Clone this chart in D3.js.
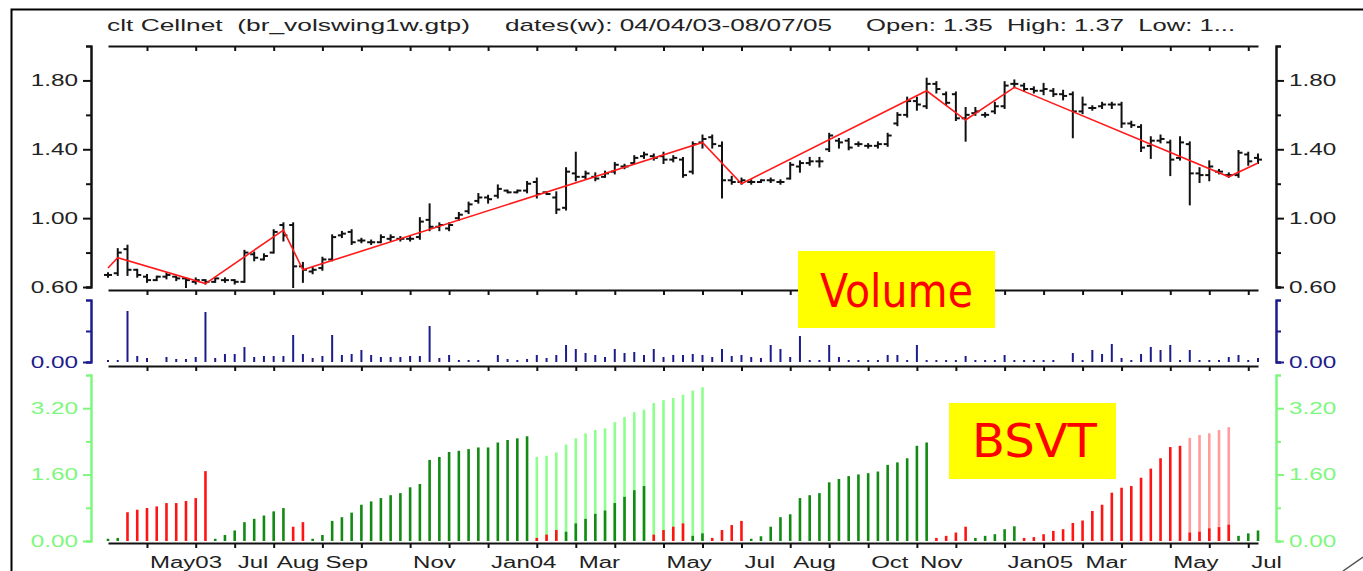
<!DOCTYPE html>
<html>
<head>
<meta charset="utf-8">
<script src="https://cdn.jsdelivr.net/npm/d3@7"></script>
<style>
  body { margin: 0; background: #fff; }
  text { font-family: 'Liberation Sans', Arial, sans-serif; }
</style>
</head>
<body>
<div id="chart"></div>
<script>
// weekly bars, 04/04/03 - 08/07/05
let open = [0.67,0.68,0.82,0.70,0.66,0.64,0.66,0.66,0.65,0.63,0.64,0.63,0.64,0.64,0.63,0.79,0.76,0.80,0.96,0.96,
  0.72,0.69,0.71,0.76,0.90,0.92,0.87,0.86,0.86,0.88,0.88,0.88,0.89,0.99,0.95,0.94,1.00,1.04,1.10,1.12,
  1.13,1.16,1.15,1.16,1.21,1.15,1.12,1.06,1.26,1.24,1.24,1.24,1.27,1.30,1.32,1.36,1.36,1.36,1.34,1.34,
  1.27,1.44,1.47,1.42,1.22,1.21,1.21,1.21,1.22,1.21,1.23,1.30,1.32,1.33,1.40,1.45,1.45,1.43,1.42,1.42,
  1.43,1.55,1.60,1.68,1.65,1.78,1.72,1.72,1.58,1.61,1.60,1.62,1.65,1.78,1.77,1.75,1.74,1.74,1.72,1.72,
  1.62,1.64,1.65,1.66,1.66,1.55,1.53,1.42,1.45,1.44,1.35,1.43,1.26,1.25,1.27,1.25,1.25,1.37,1.35];
let high = [0.68,0.82,0.84,0.70,0.67,0.66,0.68,0.66,0.65,0.65,0.64,0.65,0.65,0.64,0.81,0.80,0.79,0.93,0.97,0.97,
  0.74,0.71,0.77,0.90,0.92,0.93,0.88,0.87,0.90,0.90,0.89,0.89,1.00,1.08,0.97,0.97,1.03,1.09,1.14,1.13,
  1.19,1.16,1.16,1.21,1.23,1.15,1.15,1.29,1.38,1.27,1.26,1.27,1.32,1.31,1.36,1.38,1.37,1.38,1.36,1.35,
  1.44,1.48,1.48,1.44,1.24,1.23,1.22,1.22,1.23,1.22,1.32,1.33,1.35,1.35,1.49,1.46,1.46,1.44,1.43,1.44,
  1.49,1.61,1.70,1.70,1.81,1.79,1.73,1.73,1.64,1.64,1.61,1.67,1.79,1.80,1.78,1.76,1.78,1.75,1.74,1.73,
  1.70,1.65,1.67,1.67,1.67,1.56,1.54,1.47,1.48,1.45,1.47,1.44,1.29,1.33,1.28,1.26,1.39,1.38,1.37];
let low = [0.66,0.67,0.67,0.66,0.63,0.64,0.65,0.64,0.60,0.62,0.62,0.63,0.63,0.62,0.63,0.755,0.76,0.80,0.87,0.60,
  0.63,0.68,0.70,0.755,0.89,0.85,0.86,0.85,0.86,0.87,0.87,0.87,0.88,0.93,0.93,0.93,0.99,1.03,1.09,1.09,
  1.12,1.15,1.15,1.15,1.12,1.14,1.03,1.05,1.22,1.23,1.22,1.24,1.26,1.29,1.32,1.35,1.34,1.32,1.33,1.24,
  1.26,1.41,1.41,1.12,1.20,1.20,1.20,1.21,1.21,1.20,1.23,1.27,1.31,1.30,1.39,1.41,1.40,1.42,1.41,1.41,
  1.42,1.54,1.59,1.63,1.64,1.73,1.66,1.57,1.45,1.60,1.59,1.61,1.64,1.76,1.74,1.73,1.72,1.71,1.69,1.47,
  1.61,1.63,1.64,1.64,1.53,1.53,1.39,1.35,1.44,1.25,1.34,1.08,1.21,1.22,1.26,1.24,1.24,1.31,1.32];
let close = [0.67,0.80,0.70,0.67,0.64,0.66,0.67,0.65,0.64,0.64,0.63,0.65,0.64,0.63,0.80,0.77,0.78,0.92,0.90,0.72,
  0.70,0.70,0.76,0.89,0.91,0.86,0.87,0.86,0.89,0.89,0.88,0.88,0.98,0.95,0.96,0.96,1.02,1.08,1.12,1.11,
  1.17,1.15,1.16,1.20,1.14,1.14,1.05,1.27,1.24,1.26,1.23,1.26,1.31,1.30,1.35,1.37,1.35,1.34,1.35,1.25,
  1.43,1.46,1.43,1.22,1.21,1.22,1.21,1.22,1.22,1.21,1.31,1.32,1.33,1.33,1.48,1.44,1.41,1.43,1.42,1.43,
  1.48,1.60,1.68,1.66,1.78,1.75,1.67,1.58,1.60,1.62,1.60,1.65,1.77,1.78,1.75,1.74,1.75,1.72,1.71,1.62,
  1.66,1.64,1.66,1.66,1.55,1.54,1.41,1.45,1.46,1.34,1.44,1.26,1.25,1.30,1.27,1.25,1.38,1.33,1.34];

let volume = [0.05,0.05,2.5,0.25,0.15,0,0.2,0.1,0.1,0.2,2.45,0.15,0.35,0.35,0.7,0.2,0.25,0.25,0.25,1.3,
  0.35,0.15,0.25,1.3,0.3,0.35,0.55,0.3,0.2,0.2,0.2,0.25,0.25,1.75,0.15,0.3,0.05,0.05,0.05,0,
  0.3,0.1,0.05,0.1,0.3,0.15,0.3,0.8,0.6,0.4,0.3,0.2,0.6,0.4,0.45,0.3,0.6,0.2,0.3,0.3,
  0.35,0.3,0.2,0.6,0.25,0.3,0.2,0.15,0.8,0.6,0.2,1.25,0.05,0.05,0.8,0.2,0.05,0.05,0.05,0.05,
  0.3,0.3,0.05,0.8,0.05,0.05,0.05,0.05,0.25,0.05,0.05,0.05,0.3,0.05,0.05,0.05,0.05,0.05,0,0.4,
  0.05,0.55,0.35,0.85,0.15,0.05,0.35,0.7,0.55,0.8,0.05,0.55,0.05,0.05,0.05,0.2,0.3,0.05,0.15];

// BSVT: g = dark green, G = light green, r = red, R = light red
let bsvt = [0.03,0.05,0.67,0.73,0.77,0.81,0.89,0.89,0.94,1.01,1.66,0.03,0.12,0.23,0.43,0.51,0.59,0.69,0.77,0.32,
  0.43,0.03,0.12,0.46,0.55,0.66,0.85,0.93,1.01,1.08,1.13,1.27,1.35,1.93,2.00,2.12,2.15,2.19,2.23,2.23,
  2.35,2.41,2.45,2.50,2.00,2.03,2.11,2.30,2.45,2.57,2.65,2.69,2.84,2.96,3.08,3.14,3.30,3.37,3.42,3.50,
  3.60,3.68,0.05,0.24,0.36,0.46,0.03,0.09,0.32,0.55,0.62,1.01,1.08,1.13,1.39,1.47,1.54,1.58,1.61,1.65,
  1.81,1.87,1.97,2.27,2.35,0.05,0.10,0.18,0.32,0.05,0.10,0.14,0.26,0.33,0.05,0.07,0.14,0.22,0.26,0.41,
  0.47,0.70,0.85,1.14,1.26,1.30,1.50,1.72,1.97,2.24,2.27,2.46,2.53,2.57,2.65,2.72,0.10,0.16,0.23];
let bsvtKind = ("gg" + "rrrrrrrrr" + "gggggggg" + "rr" + "ggggggggggggggggggggggg" + "GGGGGGGGGGGGGGGGGG" +
  "rrrr" + "ggggggggggggggggggg" + "rrrr" + "ggggg" + "rrrrrrrrrrrrrrrrr" + "RRRRR" + "ggg").split("");
let ovIndex = [44,45,46,47,48,49,50,51,52,53,54,55,56,57,58,59,60,61,111,112,113,114,115];
let ovValue = [0.05,0.13,0.24,0.20,0.40,0.51,0.63,0.71,0.89,1.04,1.20,1.30,0.13,0.24,0.32,0.40,0.10,0.16,
  0.18,0.20,0.28,0.31,0.37];
let ovKind = "rrrgggggggggrrrrggrrrrr".split("");

// swing line
let swingIdx = [0,1,10,18,20,61,65,84,88,93,115,118];
let swingVal = [0.71,0.77,0.62,0.93,0.70,1.44,1.20,1.74,1.57,1.76,1.24,1.32];

let monthLabels = ["May03","","Jul","Aug","Sep","","Nov","","Jan04","","Mar","","May","","Jul","Aug","",
  "Oct","Nov","","Jan05","","Mar","","May","","Jul"];

let titleParts = ["clt Cellnet  (br_volswing1w.gtp)", "dates(w): 04/04/03-08/07/05", "Open: 1.35  High: 1.37  Low: 1..."];

let colors = { g: "#138a13", G: "#8cff8c", r: "#ff1414", R: "#ff9c9c" };

let width = 1363, height = 571;

let weeks = d3.timeFriday.range(new Date(2003, 3, 4), new Date(2005, 6, 9));
let monthTicks = d3.timeMonth.range(new Date(2003, 4, 1), new Date(2005, 7, 1)).map(m => d3.timeFriday.ceil(m));

let x = d3.scaleTime().domain([weeks[0], weeks[weeks.length - 1]]).range([108, 1258]);
let yPrice = d3.scaleLinear().domain([0.6, 2.0]).range([287, 46]);
let yVol = d3.scaleLinear().domain([0, 3.1]).range([362, 300]);
let yB = d3.scaleLinear().domain([0, 4.0]).range([541, 375]);

let svg = d3.select("#chart").append("svg")
  .attr("width", width)
  .attr("height", height);

// stretch text horizontally like the original screen font
function stretch(sel, k) {
  sel.each(function() {
    let w = this.getComputedTextLength();
    d3.select(this).attr("textLength", w * k).attr("lengthAdjust", "spacingAndGlyphs");
  });
}

svg.append("rect")
  .attr("x", 11.5).attr("y", 9.5)
  .attr("width", 1400).attr("height", 600)
  .attr("fill", "none").attr("stroke", "#000").attr("stroke-width", 2);
svg.append("line")
  .attr("x1", 1343).attr("y1", 571).attr("x2", 1363).attr("y2", 557)
  .attr("stroke", "#555").attr("stroke-width", 1.5);

// title
let titleX = [107, 505, 866], titleW = [363, 327, 369];
svg.selectAll(".title")
  .data(titleParts)
  .enter()
  .append("text")
  .attr("class", "title")
  .attr("x", (d, i) => titleX[i])
  .attr("y", 31)
  .attr("font-size", 17)
  .attr("fill", "#222")
  .style("white-space", "pre")
  .attr("textLength", (d, i) => titleW[i])
  .attr("lengthAdjust", "spacingAndGlyphs")
  .text(d => d);

function drawYAxis(xPos, scale, majors, minors, color, right) {
  let axis = right ? d3.axisRight : d3.axisLeft;
  let gMin = svg.append("g")
    .attr("transform", "translate(" + xPos + ",0)")
    .call(axis(scale).tickValues(minors).tickSize(5).tickSizeOuter(5).tickFormat(""));
  let gMaj = svg.append("g")
    .attr("transform", "translate(" + xPos + ",0)")
    .call(axis(scale).tickValues(majors).tickSize(8).tickSizeOuter(5).tickPadding(5).tickFormat(d3.format(".2f")));
  [gMin, gMaj].forEach(g => {
    g.select(".domain").attr("stroke", color).attr("stroke-width", 2);
    g.selectAll(".tick line").attr("stroke", color).attr("stroke-width", 2);
  });
  gMaj.selectAll("text")
    .attr("fill", color === "#111" ? "#222" : color)
    .attr("font-size", 16)
    .attr("font-family", "'Liberation Sans', Arial, sans-serif")
    .call(stretch, 1.52);
}

function drawXAxis(yPos) {
  let g = svg.append("g")
    .attr("transform", "translate(0," + yPos + ")")
    .call(d3.axisBottom(x).tickValues(monthTicks).tickSize(5).tickSizeOuter(0).tickFormat(""));
  g.select(".domain").attr("stroke", "#111").attr("stroke-width", 2);
  g.selectAll(".tick line").attr("stroke", "#111").attr("stroke-width", 2);
}

drawYAxis(91, yPrice, [0.6, 1.0, 1.4, 1.8], [0.8, 1.2, 1.6], "#111", false);
drawYAxis(1276, yPrice, [0.6, 1.0, 1.4, 1.8], [0.8, 1.2, 1.6], "#111", true);
drawYAxis(91, yVol, [0], [1.55], "#1c1c8c", false);
drawYAxis(1276, yVol, [0], [1.55], "#1c1c8c", true);
drawYAxis(91, yB, [0, 1.6, 3.2], [0.8, 2.4], "#7ef77e", false);
drawYAxis(1276, yB, [0, 1.6, 3.2], [0.8, 2.4], "#7ef77e", true);

drawXAxis(46);
drawXAxis(290);
drawXAxis(366);
drawXAxis(543);

// month labels
svg.selectAll(".month")
  .data(monthTicks)
  .enter()
  .append("text")
  .attr("class", "month")
  .attr("x", d => x(d) + 3)
  .attr("y", 568)
  .attr("font-size", 16)
  .attr("fill", "#222")
  .text((d, i) => monthLabels[i])
  .call(stretch, 1.5);

// price bars
let bars = svg.append("g").attr("stroke", "#111").attr("stroke-width", 2);
weeks.forEach((w, i) => {
  let bx = x(w);
  bars.append("line").attr("x1", bx).attr("x2", bx).attr("y1", yPrice(high[i]) - 1).attr("y2", yPrice(low[i]) + 1);
  bars.append("line").attr("x1", bx - 4).attr("x2", bx).attr("y1", yPrice(open[i])).attr("y2", yPrice(open[i]));
  bars.append("line").attr("x1", bx).attr("x2", bx + 4).attr("y1", yPrice(close[i])).attr("y2", yPrice(close[i]));
});

svg.append("path")
  .datum(swingIdx)
  .attr("fill", "none")
  .attr("stroke", "#ff1a1a")
  .attr("stroke-width", 1.6)
  .attr("d", d3.line().x(i => x(weeks[i])).y((i, k) => yPrice(swingVal[k])));

// volume
svg.append("g")
  .selectAll("line")
  .data(weeks)
  .enter()
  .append("line")
  .attr("x1", d => x(d)).attr("x2", d => x(d))
  .attr("y1", yVol(0))
  .attr("y2", (d, i) => yVol(volume[i]) - (volume[i] > 0 ? 1 : 0))
  .attr("stroke", "#1c1c8c")
  .attr("stroke-width", 2);

// BSVT
svg.append("g")
  .selectAll("line")
  .data(weeks)
  .enter()
  .append("line")
  .attr("x1", d => x(d)).attr("x2", d => x(d))
  .attr("y1", yB(0))
  .attr("y2", (d, i) => yB(bsvt[i]) - 1)
  .attr("stroke", (d, i) => colors[bsvtKind[i]])
  .attr("stroke-width", 2.6);

svg.append("g")
  .selectAll("line")
  .data(ovIndex)
  .enter()
  .append("line")
  .attr("x1", d => x(weeks[d])).attr("x2", d => x(weeks[d]))
  .attr("y1", yB(0))
  .attr("y2", (d, i) => yB(ovValue[i]) - 1)
  .attr("stroke", (d, i) => colors[ovKind[i]])
  .attr("stroke-width", 2.6);

// labels in yellow boxes
let tags = [
  { t: "Volume", x: 798, y: 251, w: 197, h: 77, tx: 820, ty: 307, tw: 153 },
  { t: "BSVT", x: 949, y: 403, w: 167, h: 76, tx: 972, ty: 457, tw: 125 }
];
tags.forEach(d => {
  svg.append("rect").attr("x", d.x).attr("y", d.y).attr("width", d.w).attr("height", d.h).attr("fill", "#ffff00");
  svg.append("text")
    .attr("x", d.tx).attr("y", d.ty)
    .attr("font-size", 46)
    .style("font-family", "'Comic Sans MS', 'DejaVu Sans', sans-serif")
    .attr("fill", "#ff0000")
    .attr("textLength", d.tw)
    .attr("lengthAdjust", "spacingAndGlyphs")
    .text(d.t);
});
</script>
</body>
</html>
